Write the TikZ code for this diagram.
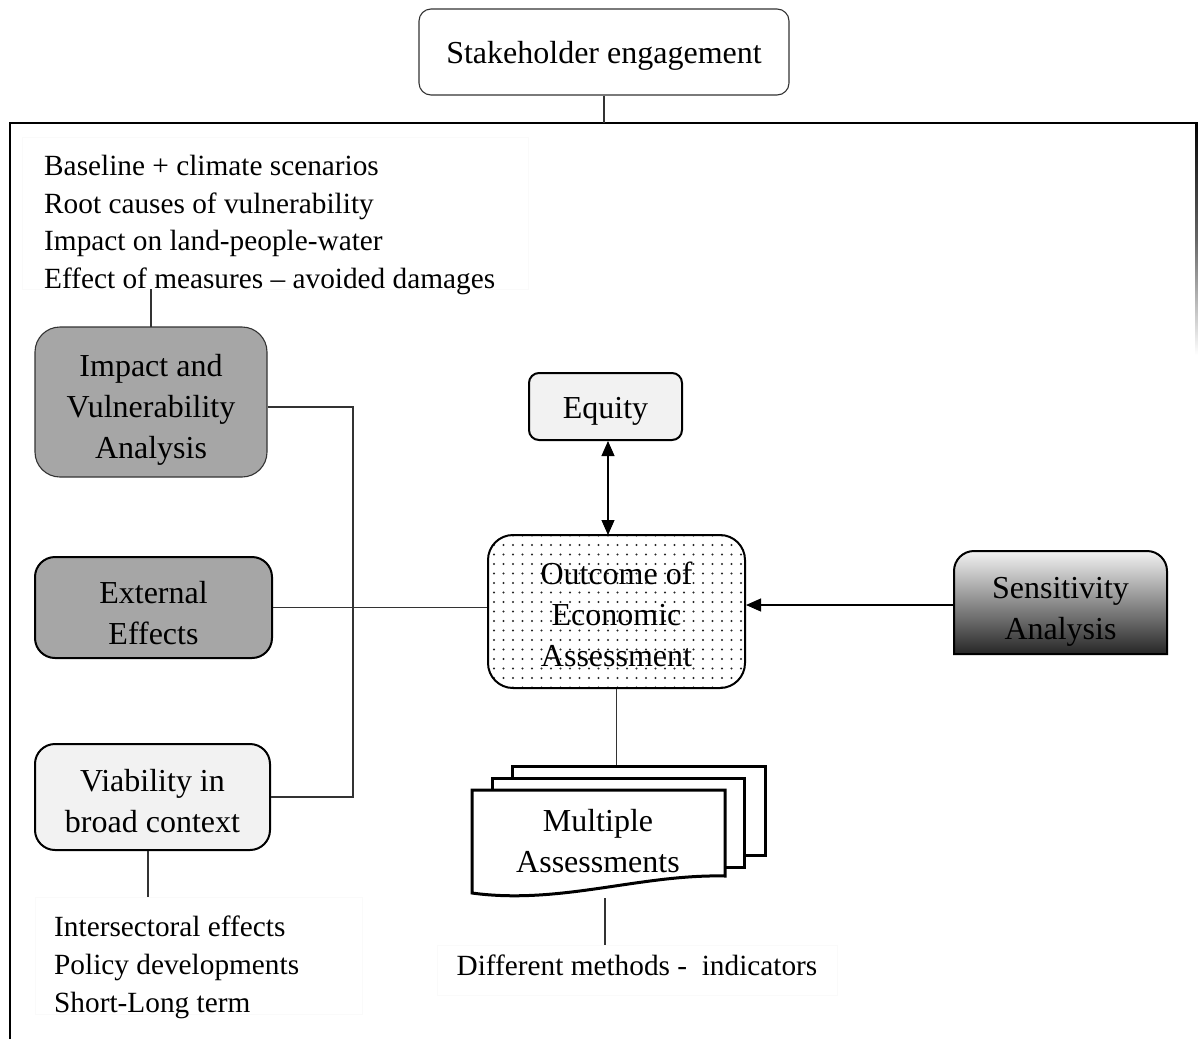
\documentclass[tikz,border=0pt]{standalone}
\usepackage{fontspec}
\setmainfont{Liberation Serif}
\usetikzlibrary{arrows.meta,patterns.meta,calc}
\newcommand{\tdn}[1]{\rule{0pt}{#1pt}}
\begin{document}
\begin{tikzpicture}[x=1pt,y=-1pt,
  box/.style={draw=black, line width=2pt, rounded corners=#1, align=center, inner sep=0pt,
              font=\fontsize{32}{41}\selectfont},
  box/.default=20,
  thinbox/.style={box=#1, draw=black!80, line width=1.1pt},
  thinbox/.default=20,
  listbox/.style={draw=black!2, line width=0.6pt, inner sep=0pt},
  listtext/.style={align=left, inner sep=0pt, font=\fontsize{29.3}{37.6}\selectfont},
  conn/.style={draw=black!80, line width=1.1pt},
  tipline/.style={draw=black, line width=1.1pt},
  tip/.style={-{Triangle[length=15pt,width=13pt]}},
  doc/.style={draw=black, line width=3pt, fill=white}
]
\useasboundingbox (0,0) rectangle (1198,1039);
\fill[white] (0,0) rectangle (1198,1039);

% outer frame
\draw[line width=2.6pt] (10,1039) -- (10,123) -- (1198,123);
\shade[top color=black, bottom color=white, middle color=black!60] (1195.5,123) rectangle (1198,355);
\coordinate (frametop) at (604,123);

% top
\node[thinbox=12, minimum width=370, minimum height=86] (stake) at (604,52) {\tdn{30}Stakeholder engagement};
\draw[conn] (stake.south) -- (frametop);

% top list
\node[listbox, minimum width=506, minimum height=152] (toplist) at (275,213) {};
\node[listtext, anchor=north west] (toptext) at (44,155) {Baseline + climate scenarios\\Root causes of vulnerability\\Impact on land-people-water\\Effect of measures -- avoided damages};

% left boxes
\node[thinbox=25, fill=black!35, minimum width=232, minimum height=150] (impact) at (151,402) {\tdn{38}Impact and\\Vulnerability\\Analysis};
\node[box=20, fill=black!35, minimum width=237, minimum height=101] (external) at (153.5,607.5) {\tdn{34}External\\Effects};
\node[box=20, fill=black!5, minimum width=235, minimum height=106] (viability) at (152.5,797) {\tdn{30}Viability in\\broad context};

% bottom list
\node[listbox, minimum width=327, minimum height=117] (botlist) at (198.5,955.5) {};
\node[listtext, anchor=north west] (bottext) at (54,916) {Intersectoral effects\\Policy developments\\Short-Long term};

% centre
\node[box=10, fill=black!5, minimum width=153, minimum height=67] (equity) at (605.5,406.5) {\tdn{30}Equity};
\node[box=25, pattern={Dots[distance=9.5pt,radius=1.05pt]}, pattern color=black!85,
      minimum width=257, minimum height=153] (outcome) at (616.5,611.5) {\tdn{28}Outcome of\\Economic\\Assessment};

% sensitivity
\draw[line width=2pt, top color=black!5, bottom color=black!85]
  (954,654) -- (954,571) arc[start angle=180,end angle=270,radius=20]
  -- (1147,551) arc[start angle=270,end angle=360,radius=20] -- (1167,654) -- cycle;
\node[align=center, inner sep=0pt, font=\fontsize{32}{41}\selectfont,
      minimum width=213, minimum height=103] (sens) at (1060.5,602.5) {\tdn{40}Sensitivity\\Analysis};

% documents
\node[doc, minimum width=253, minimum height=89, inner sep=0pt] (docback) at (639,811) {};
\node[doc, minimum width=252, minimum height=89, inner sep=0pt] (docmid) at (618.5,822.5) {};
\draw[doc] (472,893) -- (472,790) -- (725,790) -- (725,876)
   .. controls (640,874) and (560,905) .. cycle;
\node[align=center, inner sep=0pt, font=\fontsize{32}{41}\selectfont] (docs) at (598,841) {Multiple\\Assessments};
\coordinate (docbot) at (605,898);
\node[listbox, minimum width=400, minimum height=50, anchor=north] (methodsbox) at (637,945) {};
\node[inner sep=0pt, font=\fontsize{29.3}{37.6}\selectfont, anchor=base] (methods) at (637,975) {Different methods -\ \ indicators};

% connectors
\draw[conn] (impact.north |- toplist.south) -- (impact.north |- 0,327);
\draw[conn] (impact.east |- 0,407) -- (353,407) coordinate (bus) -- (bus |- viability.east) -- (viability.east);
\draw[conn] (external.east) -- (outcome.west |- external.east);
\draw[conn] (viability.south -| 148,0) -- (148,897);
\draw[tipline, {Triangle[length=15pt,width=13pt]}-{Triangle[length=15pt,width=13pt]}] (equity.south -| 608,0) -- (608,535);
\draw[tipline, tip] (sens.west |- 0,605) -- (outcome.east |- 0,605);
\draw[conn] (outcome.south) -- (outcome.south |- docback.north);
\draw[conn] (docbot) -- (methodsbox.north -| docbot);
\end{tikzpicture}
\end{document}
